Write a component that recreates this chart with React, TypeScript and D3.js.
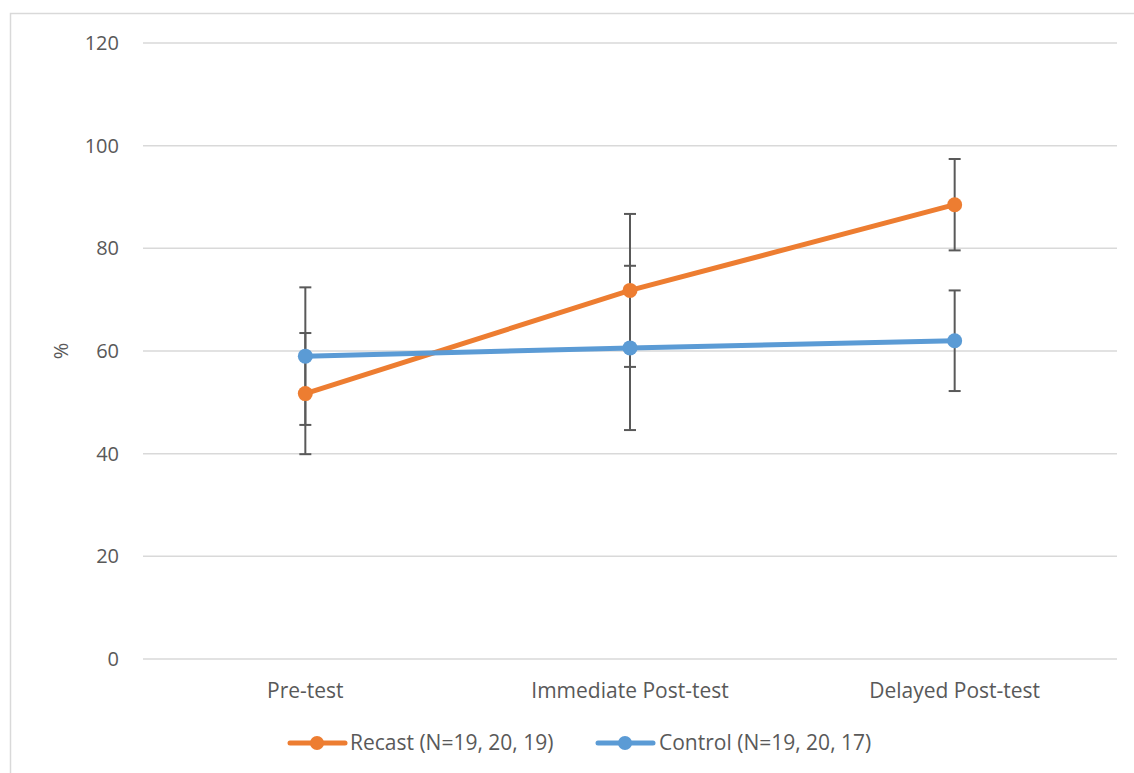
import React from "react";
import * as d3 from "d3";

const categories = ["Pre-test", "Immediate Post-test", "Delayed Post-test"];
const recastValues = [51.7, 71.8, 88.5];
const recastErrors = [11.8, 14.9, 8.9];
const controlValues = [59.0, 60.6, 62.0];
const controlErrors = [13.4, 16.0, 9.8];
const yTicks = [0, 20, 40, 60, 80, 100, 120];
const seriesNames = ["Recast (N=19, 20, 19)", "Control (N=19, 20, 17)"];

const W = 1134;
const H = 773;
const plot = { left: 143, right: 1117, top: 43, bottom: 659 };
const FONT = "'Open Sans', 'Liberation Sans', sans-serif";
const TEXT = "#595959";

export default function App() {
  const x = d3.scaleBand<string>().domain(categories).range([plot.left, plot.right]);
  const y = d3.scaleLinear().domain([0, 120]).range([plot.bottom, plot.top]);
  const cx = (c: string) => (x(c) as number) + x.bandwidth() / 2;

  const series = [
    { name: seriesNames[0], values: recastValues, errors: recastErrors, color: "#ED7D31" },
    { name: seriesNames[1], values: controlValues, errors: controlErrors, color: "#5B9BD5" },
  ];

  const line = d3
    .line<number>()
    .x((_, i) => cx(categories[i]))
    .y((v) => y(v));

  const legendItems = [
    { x: 290, textX: 350 },
    { x: 598, textX: 659 },
  ];
  const legendY = 743;

  return (
    <svg
      width={W}
      height={H}
      style={{ position: "absolute", left: 0, top: 0, display: "block", background: "#fff" }}
      fontFamily={FONT}
    >
      <rect x={10.5} y={13.5} width={W + 10} height={H + 10} fill="#fff" stroke="#d9d9d9" strokeWidth={1.5} />
      {yTicks.map((t) => (
        <g key={t}>
          <line x1={plot.left} x2={plot.right} y1={y(t)} y2={y(t)} stroke="#d9d9d9" strokeWidth={1.5} />
          <text x={119} y={y(t)} dy="0.35em" textAnchor="end" fontSize={20} fill={TEXT}>
            {t}
          </text>
        </g>
      ))}
      <text
        transform={`translate(68,${(plot.top + plot.bottom) / 2}) rotate(-90)`}
        textAnchor="middle"
        fontSize={20}
        fill={TEXT}
      >
        %
      </text>
      {categories.map((c) => (
        <text key={c} x={cx(c)} y={691} dy="0.35em" textAnchor="middle" fontSize={21} fill={TEXT}>
          {c}
        </text>
      ))}
      {series.map((s) =>
        s.values.map((v, i) => {
          const px = cx(categories[i]);
          const hi = y(v + s.errors[i]);
          const lo = y(v - s.errors[i]);
          return (
            <g key={s.name + i} stroke="#595959" strokeWidth={2}>
              <line x1={px} x2={px} y1={hi} y2={lo} />
              <line x1={px - 6} x2={px + 6} y1={hi} y2={hi} />
              <line x1={px - 6} x2={px + 6} y1={lo} y2={lo} />
            </g>
          );
        })
      )}
      {series.map((s) => (
        <g key={s.name}>
          <path d={line(s.values) || ""} fill="none" stroke={s.color} strokeWidth={5} strokeLinecap="round" />
          {s.values.map((v, i) => (
            <circle key={i} cx={cx(categories[i])} cy={y(v)} r={7.5} fill={s.color} />
          ))}
        </g>
      ))}
      {series.map((s, i) => (
        <g key={"leg" + i}>
          <line
            x1={legendItems[i].x}
            x2={legendItems[i].x + 55}
            y1={legendY}
            y2={legendY}
            stroke={s.color}
            strokeWidth={5}
            strokeLinecap="round"
          />
          <circle cx={legendItems[i].x + 27} cy={legendY} r={7} fill={s.color} />
          <text x={legendItems[i].textX} y={legendY} dy="0.35em" fontSize={21} fill={TEXT}>
            {s.name}
          </text>
        </g>
      ))}
    </svg>
  );
}
